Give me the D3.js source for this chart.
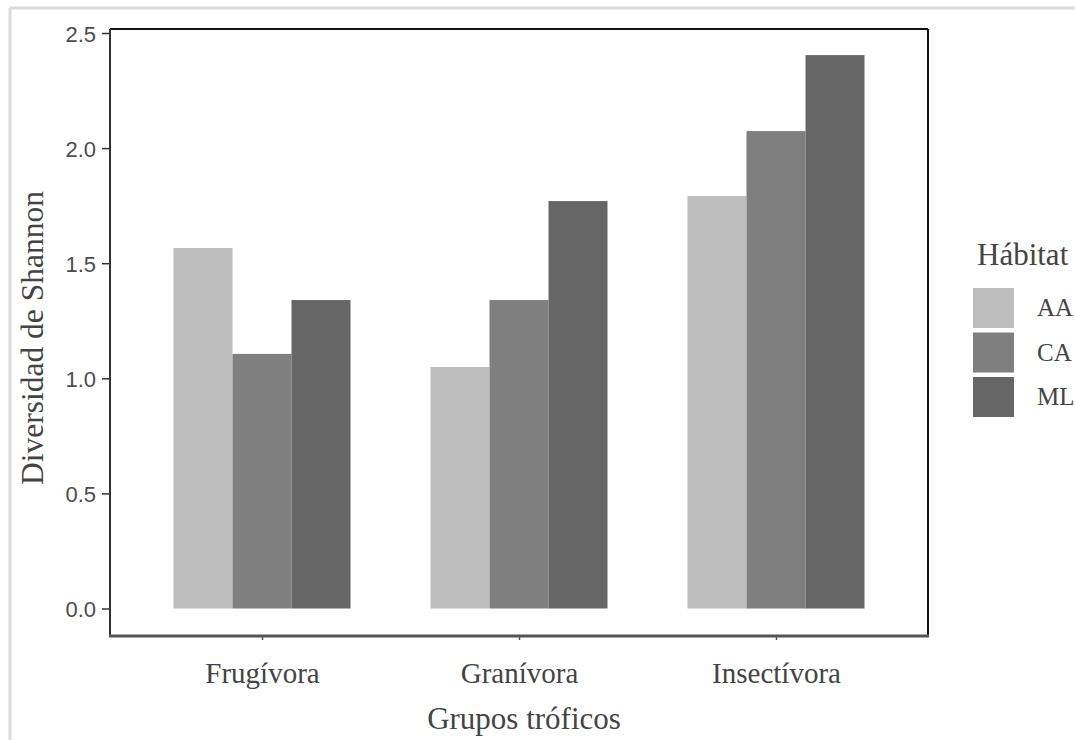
<!DOCTYPE html>
<html><head><meta charset="utf-8">
<script src="https://cdn.jsdelivr.net/npm/d3@7"></script>
<style>body{margin:0;background:#fff}svg{display:block}</style>
</head><body>
<script>
const categories = ["Frugívora", "Granívora", "Insectívora"];
const habitats = ["AA", "CA", "ML"];
const valuesAA = [1.566, 1.049, 1.792];
const valuesCA = [1.106, 1.340, 2.074];
const valuesML = [1.340, 1.770, 2.404];
const yTicks = [0, 0.5, 1.0, 1.5, 2.0, 2.5];
const colors = ["#bebebe", "#7f7f7f", "#666666"];

const series = [valuesAA, valuesCA, valuesML];
const data = [];
categories.forEach((c, i) => habitats.forEach((h, j) => data.push({cat: c, hab: h, v: series[j][i]})));

const W = 1075, H = 740;
const serif = "Liberation Serif, Times New Roman, serif";
const svg = d3.select("body").append("svg").attr("width", W).attr("height", H);

// outer screenshot frame
svg.append("line").attr("x1", 10).attr("x2", W).attr("y1", 8).attr("y2", 8).attr("stroke", "#dcdcdc").attr("stroke-width", 3);
svg.append("line").attr("x1", 10).attr("x2", 10).attr("y1", 8).attr("y2", H).attr("stroke", "#dcdcdc").attr("stroke-width", 3);

const pl = 110, pr = 928, pt = 29, pb = 636;
const y = d3.scaleLinear().domain([0, 2.5]).range([608.5, 33]);
const x = d3.scalePoint().domain(categories).range([262, 776]);
const groupW = 177;
const xs = d3.scaleBand().domain(habitats).range([-groupW/2, groupW/2]).padding(0);
const color = d3.scaleOrdinal().domain(habitats).range(colors);

svg.append("g").selectAll("rect").data(data).join("rect")
  .attr("x", d => x(d.cat) + xs(d.hab))
  .attr("width", xs.bandwidth())
  .attr("y", d => y(d.v))
  .attr("height", d => y(0) - y(d.v))
  .attr("fill", d => color(d.hab));

// panel border: top & right black
svg.append("line").attr("x1", pl).attr("x2", pr).attr("y1", pt).attr("y2", pt).attr("stroke", "#111").attr("stroke-width", 2);
svg.append("line").attr("x1", pr).attr("x2", pr).attr("y1", pt).attr("y2", pb).attr("stroke", "#111").attr("stroke-width", 2);

// y axis
const yAxis = svg.append("g").attr("transform", `translate(${pl},0)`)
  .call(d3.axisLeft(y).tickValues(yTicks).tickFormat(d3.format(".1f")).tickSize(8).tickSizeOuter(0));
yAxis.select(".domain").remove();
yAxis.append("line").attr("x1", 0).attr("x2", 0).attr("y1", pt).attr("y2", pb + 1).attr("stroke", "#333").attr("stroke-width", 2);
yAxis.selectAll(".tick line").attr("stroke", "#333").attr("stroke-width", 1.5);
yAxis.selectAll(".tick text").attr("fill", "#4d4d4d").attr("font-family", "Liberation Sans, Arial, sans-serif")
  .attr("font-size", 22).attr("x", -14).attr("dy", "0.38em");

// x axis
const xAxis = svg.append("g").attr("transform", `translate(0,${pb})`)
  .call(d3.axisBottom(x).tickSize(4).tickSizeOuter(0));
xAxis.select(".domain").remove();
xAxis.append("line").attr("x1", pl - 1).attr("x2", pr + 1).attr("y1", 0).attr("y2", 0).attr("stroke", "#555").attr("stroke-width", 3);
xAxis.selectAll(".tick line").attr("stroke", "#555").attr("stroke-width", 1.5);
xAxis.selectAll(".tick text").attr("fill", "#444").attr("font-family", serif).attr("font-size", 29).attr("dy", null).attr("y", 47);

// titles
svg.append("text").attr("x", 524).attr("y", 729).attr("text-anchor", "middle")
  .attr("font-family", serif).attr("font-size", 31).attr("fill", "#444").text("Grupos tróficos");
svg.append("text").attr("transform", "translate(43,338) rotate(-90)").attr("text-anchor", "middle")
  .attr("font-family", serif).attr("font-size", 31.5).attr("fill", "#444").text("Diversidad de Shannon");

// legend
const lg = svg.append("g");
lg.append("text").attr("x", 977).attr("y", 265).attr("font-family", serif).attr("font-size", 31).attr("fill", "#444").text("Hábitat");
const key = lg.selectAll("g.k").data(habitats).join("g").attr("class", "k")
  .attr("transform", (d, i) => `translate(973,${288 + i * 44.5})`);
key.append("rect").attr("width", 41).attr("height", 40).attr("fill", d => color(d));
key.append("text").attr("x", 64).attr("y", 28).attr("font-family", serif).attr("font-size", 25).attr("fill", "#444").text(d => d);
</script>
</body></html>
